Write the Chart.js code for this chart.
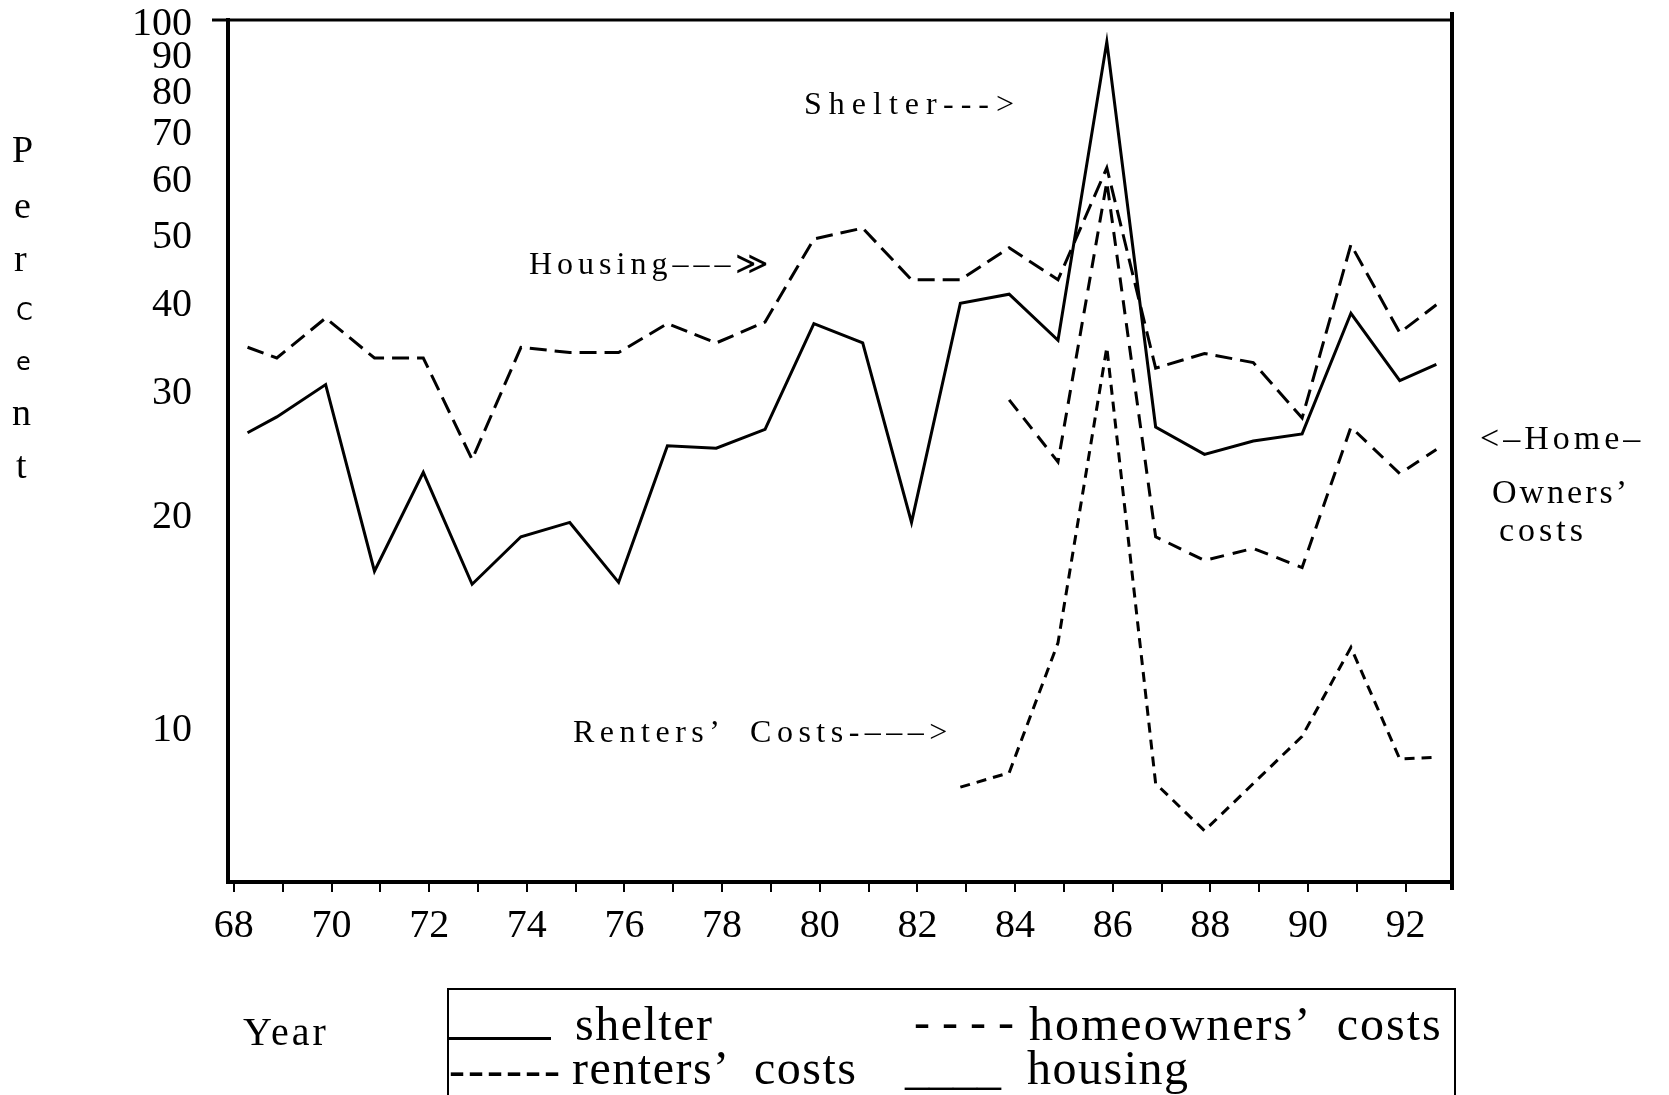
<!DOCTYPE html>
<html>
<head>
<meta charset="utf-8">
<title>Percent change: shelter, housing, homeowners' and renters' costs</title>
<script src="https://cdn.jsdelivr.net/npm/chart.js@4.4.1/dist/chart.umd.min.js"></script>
<style>
  html, body { margin: 0; padding: 0; background: #fff; }
  #wrap { position: relative; width: 1669px; height: 1095px; overflow: hidden; }
  #chart { position: absolute; left: 0; top: 0; }
  .t { position: absolute; font-family: 'Liberation Serif', serif; color: #000; white-space: pre;
       line-height: 1; transform: translateY(-50%); }
  .ann { font-size: 32px; }
  .side { font-size: 34px; letter-spacing: 4px; }
  .lg { font-size: 48px; letter-spacing: 1.5px; }
  #legendBox { position: absolute; left: 447px; top: 988px; width: 1005px; height: 120px;
               border: 2px solid #000; border-bottom: none; }
</style>
</head>
<body>
<div id="wrap">
  <canvas id="chart" width="1669" height="1095"></canvas>

  <!-- notes inside the plot -->
  <div class="t ann" style="left:804px; top:103px; letter-spacing:7px;">Shelter---&gt;</div>
  <div class="t ann" style="left:529px; top:263px; letter-spacing:5px;">Housing–––≫</div>
  <div class="t ann" style="left:573px; top:731px; letter-spacing:5.5px;">Renters’  Costs-–––&gt;</div>

  <!-- right side note -->
  <div class="t side" style="left:1480px; top:438px;">&lt;–Home–</div>
  <div class="t side" style="left:1492px; top:492px; letter-spacing:3px;">Owners’</div>
  <div class="t side" style="left:1499px; top:530px;">costs</div>

  <!-- y axis title, one letter per line -->
  <div class="t" style="left:12px; top:149px; font-size:38px;">P</div>
  <div class="t" style="left:14px; top:205px; font-size:38px;">e</div>
  <div class="t" style="left:14px; top:258px; font-size:38px;">r</div>
  <div class="t" style="left:16px; top:312px; font-size:24px; font-family:'DejaVu Sans';">C</div>
  <div class="t" style="left:16px; top:362px; font-size:24px; font-family:'DejaVu Sans';">e</div>
  <div class="t" style="left:12px; top:412px; font-size:38px;">n</div>
  <div class="t" style="left:16px; top:465px; font-size:38px;">t</div>

  <div class="t" style="left:243px; top:1032px; font-size:40px; letter-spacing:3px;">Year</div>

  <!-- legend -->
  <div id="legendBox"></div>
  <div style="position:absolute; left:449px; top:1037px; width:102px; height:3px; background:#000;"></div>
  <div class="t lg" style="left:575px; top:1024px;">shelter</div>
  <div class="t lg" style="left:914px; top:1022px; letter-spacing:0;">- - - -</div>
  <div class="t lg" style="left:1029px; top:1024px; letter-spacing:2px;">homeowners’  costs</div>
  <div class="t lg" style="left:449px; top:1070px; letter-spacing:3px;">------</div>
  <div class="t lg" style="left:572px; top:1068px;">renters’  costs</div>
  <div class="t lg" style="left:905px; top:1068px; letter-spacing:0;">____</div>
  <div class="t lg" style="left:1027px; top:1068px;">housing</div>
</div>

<script>
// years (19xx); first and last points sit part-way through the year as in the picture
const years = [68.4, 69, 70, 71, 72, 73, 74, 75, 76, 77, 78, 79, 80, 81, 82, 83, 84, 85, 86, 87, 88, 89, 90, 91, 92, 92.75];
const shelter = [26.4, 27.8, 30.9, 16.8, 23.2, 16.1, 18.8, 19.7, 16.2, 25.3, 25.1, 26.7, 37.7, 35.4, 19.7, 40.3, 41.5, 35.7, 94.6, 26.9, 24.6, 25.7, 26.3, 39.0, 31.3, 33.0];
const housing = [34.9, 33.7, 38.4, 33.7, 33.7, 24.2, 34.9, 34.3, 34.3, 37.7, 35.4, 37.9, 49.7, 51.5, 43.5, 43.5, 48.3, 43.5, 62.7, 32.6, 34.2, 33.2, 27.7, 48.8, 36.6, 40.1];

const ownerYears = [84, 85, 86, 87, 88, 89, 90, 91, 92, 92.75];
const homeowners = [29.4, 24.0, 59.9, 18.8, 17.4, 18.1, 17.0, 26.9, 23.1, 25.0];

const renterYears = [83, 84, 85, 86, 87, 88, 89, 90, 91, 92, 92.75];
const renters = [8.3, 8.7, 13.3, 34.9, 8.4, 7.2, 8.4, 9.8, 13.1, 9.1, 9.15];

const yTicks = [10, 20, 30, 40, 50, 60, 70, 80, 90, 100];
const xTickYears = [68, 69, 70, 71, 72, 73, 74, 75, 76, 77, 78, 79, 80, 81, 82, 83, 84, 85, 86, 87, 88, 89, 90, 91, 92];

function pts(xs, ys) {
  return xs.map((x, i) => ({ x: x, y: ys[i] }));
}

function series(label, xs, ys, dash) {
  return {
    label: label,
    data: pts(xs, ys),
    borderColor: '#000',
    borderWidth: 3,
    borderDash: dash,
    pointRadius: 0,
    tension: 0,
    fill: false
  };
}

// top and right edges of the frame
const framePlugin = {
  id: 'frame',
  afterDraw(chart) {
    const a = chart.chartArea;
    const ctx = chart.ctx;
    ctx.save();
    ctx.strokeStyle = '#000';
    ctx.lineWidth = 3;
    ctx.beginPath();
    ctx.moveTo(a.left - 16, a.top);
    ctx.lineTo(a.right + 2, a.top);
    ctx.stroke();
    ctx.lineWidth = 4;
    ctx.beginPath();
    ctx.moveTo(a.right, a.top - 8);
    ctx.lineTo(a.right, a.bottom + 8);
    ctx.stroke();
    ctx.restore();
  }
};

// keep the plot box where the picture has it, whatever the label overhang
function noOverhang(s) {
  s.paddingTop = 0;
  s.paddingBottom = 0;
  s.paddingLeft = 0;
  s.paddingRight = 0;
}

new Chart(document.getElementById('chart'), {
  type: 'line',
  data: {
    datasets: [
      series('shelter', years, shelter, []),
      series('housing', years, housing, [17, 8]),
      series("homeowners' costs", ownerYears, homeowners, [14, 9]),
      series("renters' costs", renterYears, renters, [10, 7])
    ]
  },
  options: {
    responsive: false,
    devicePixelRatio: 1,
    animation: false,
    layout: { padding: { top: 20, right: 217, left: 0, bottom: 0 } },
    plugins: { legend: { display: false }, tooltip: { enabled: false } },
    scales: {
      x: {
        type: 'linear',
        min: 68,
        max: 93.07,
        afterBuildTicks: (s) => { s.ticks = xTickYears.map(v => ({ value: v + 0.12 })); },
        afterFit: (s) => { s.height = 213; noOverhang(s); },
        border: { display: true, color: '#000', width: 4 },
        grid: { display: true, drawOnChartArea: false, drawTicks: true, tickLength: 10, color: '#000', lineWidth: 2 },
        ticks: {
          autoSkip: false,
          maxRotation: 0,
          minRotation: 0,
          padding: 14,
          color: '#000',
          font: { family: 'Liberation Serif', size: 40, lineHeight: 1 },
          callback: (v) => { const yr = Math.round(v); return yr % 2 === 0 ? String(yr) : ''; }
        }
      },
      y: {
        type: 'logarithmic',
        min: 6.09,
        max: 101.6,
        afterBuildTicks: (s) => { s.ticks = yTicks.map(v => ({ value: v })); },
        afterFit: (s) => { s.width = 228; noOverhang(s); },
        border: { display: true, color: '#000', width: 4 },
        grid: { display: false },
        ticks: {
          padding: 28,
          color: '#000',
          font: { family: 'Liberation Serif', size: 40, lineHeight: 1 },
          callback: (v) => String(v)
        }
      }
    }
  },
  plugins: [framePlugin]
});
</script>
</body>
</html>
